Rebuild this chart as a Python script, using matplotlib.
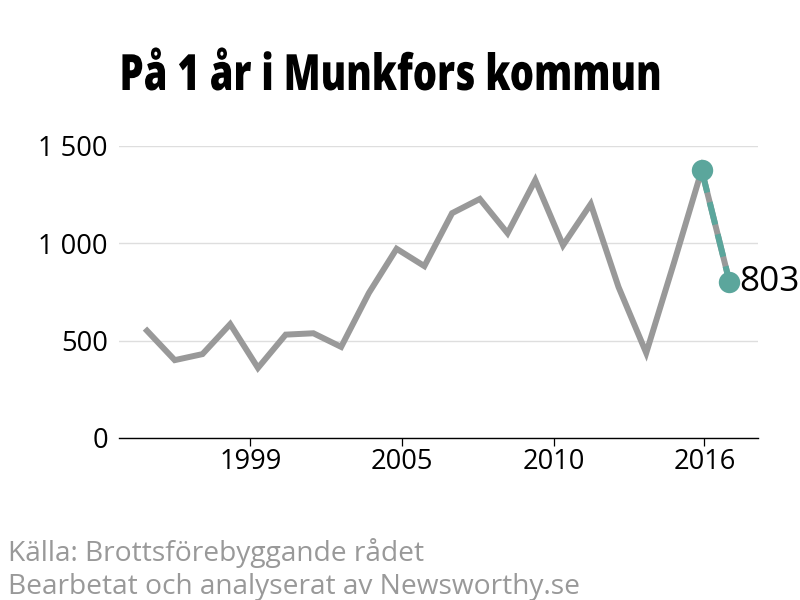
"""Brott per år i Munkfors kommun."""
import matplotlib
matplotlib.use("Agg")
import matplotlib.pyplot as plt
from matplotlib.patheffects import AbstractPathEffect
from matplotlib.transforms import Affine2D

years = list(range(1996, 2018))
values = [551, 400, 431, 585, 360, 531, 538, 468, 745, 972, 883, 1155,
          1228, 1052, 1325, 990, 1202, 776, 437, 900, 1376, 803]
last_years = [2016, 2017]
last_values = [1376, 803]
y_ticks = [0, 500, 1000, 1500]
y_labels = ["0", "500", "1 000", "1 500"]
x_ticks = [1999.73, 2005.18, 2010.66, 2016.10]
x_labels = ["1999", "2005", "2010", "2016"]

GREY = "#999999"
TEAL = "#5ba69c"
TITLE_CENTER = 390.5
TITLE_SQUEEZE = 0.764


class Squeeze(AbstractPathEffect):
    """Smalnar av texten i x-led, det finns ingen condensed-font installerad."""

    def __init__(self, center, factor):
        super().__init__()
        self.center = center
        self.factor = factor

    def draw_path(self, renderer, gc, tpath, affine, rgbFace=None):
        squeeze = (Affine2D().translate(-self.center, 0)
                   .scale(self.factor, 1).translate(self.center, 0))
        renderer.draw_path(gc, tpath, affine + squeeze, rgbFace)


plt.rcParams["font.family"] = ["Open Sans", "DejaVu Sans"]

fig = plt.figure(figsize=(8, 6), dpi=100)
ax = fig.add_axes([119 / 800, 1 - 438 / 600, (758 - 119) / 800, (438 - 146) / 600])

ax.plot(years, values, color=GREY, lw=4.3, solid_joinstyle="miter", zorder=3, clip_on=False)
ax.plot(last_years, last_values, color=TEAL, lw=4.3, dashes=(3.86, 1.67), zorder=4, clip_on=False)
ax.plot(last_years, last_values, "o", color=TEAL, ms=15.4, mew=0, zorder=5, clip_on=False)
ax.annotate("803", (last_years[1], last_values[1]), xytext=(7, 0), textcoords="offset points",
            fontsize=25.4, va="center", ha="left", color="black", annotation_clip=False)

ax.set_xlim(1994.99, 2018.03)
ax.set_ylim(0, 1500)
ax.set_yticks(y_ticks)
ax.set_yticklabels(y_labels)
ax.set_xticks(x_ticks)
ax.set_xticklabels(x_labels)
ax.grid(axis="y", color="#dedede", lw=1)
ax.set_axisbelow(True)
ax.tick_params(axis="y", length=0, pad=8, labelsize=19.6, labelcolor="black")
ax.tick_params(axis="x", length=6, width=0.9, pad=1.5, labelsize=19.6, labelcolor="black")
for side in ["top", "right", "left"]:
    ax.spines[side].set_visible(False)
ax.spines["bottom"].set_linewidth(1)

title = fig.text(TITLE_CENTER / 800, 1 - 90 / 600, "På 1 år i Munkfors kommun",
                 fontweight=800, fontsize=36, color="black", ha="center", va="baseline")
title.set_path_effects([Squeeze(TITLE_CENTER, TITLE_SQUEEZE)])
fig.text(8 / 800, 1 - 561 / 600, "Källa: Brottsförebyggande rådet", fontsize=20.25, color=GREY,
         ha="left", va="baseline")
fig.text(8 / 800, 1 - 594 / 600, "Bearbetat och analyserat av Newsworthy.se", fontsize=20.25,
         color=GREY, ha="left", va="baseline")

fig.savefig("out.png", dpi=100)
